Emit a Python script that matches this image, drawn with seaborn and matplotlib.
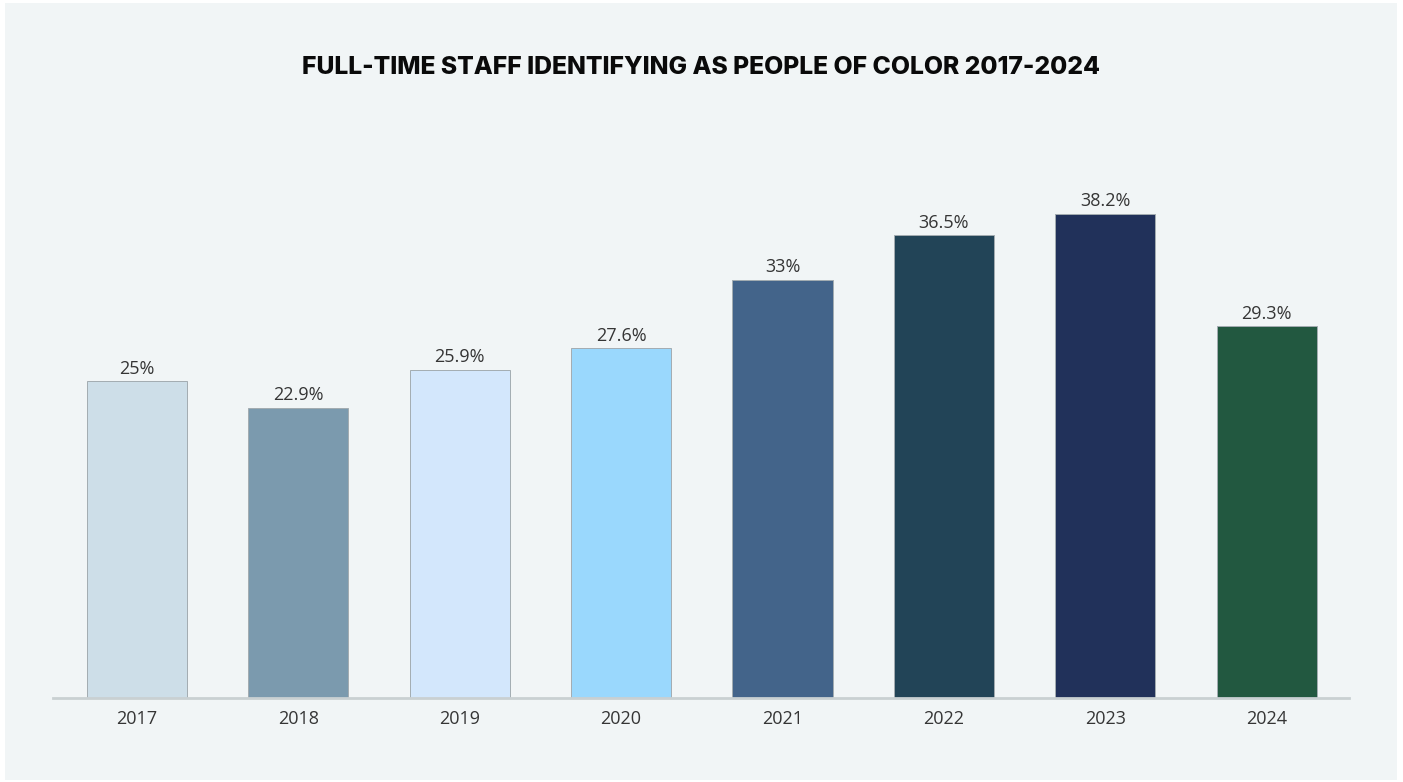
import matplotlib
matplotlib.use("Agg")
import matplotlib.pyplot as plt
from matplotlib.patches import Rectangle
import seaborn as sns
import pandas as pd

years = ["2017", "2018", "2019", "2020", "2021", "2022", "2023", "2024"]
shares = [25.0, 22.9, 25.9, 27.6, 33.0, 36.5, 38.2, 29.3]
labels = ["25%", "22.9%", "25.9%", "27.6%", "33%", "36.5%", "38.2%", "29.3%"]
colors = ["#cddee8", "#7b9aae", "#d3e7fc", "#9ad8fd",
          "#43648a", "#224457", "#21315a", "#225840"]

title = "FULL-TIME STAFF IDENTIFYING AS PEOPLE OF COLOR 2017-2024"

panel_bg = "#f1f5f6"
text_col = "#353535"

sns.set_theme(style="white")
plt.rcParams["font.family"] = ["Open Sans", "DejaVu Sans"]

W, H = 1403, 782
fig = plt.figure(figsize=(W / 100, H / 100), dpi=100, facecolor="white")

# light panel behind the chart with a thin white frame
fig.patches.append(Rectangle((5 / W, 2 / H), (1397 - 5) / W, (780 - 3) / H,
                             transform=fig.transFigure, facecolor=panel_bg,
                             edgecolor="none", zorder=-10))

ax_l, ax_r = 53 / W, 1349 / W
ax_b, ax_t = 1 - 698 / H, 1 - 150 / H
ax = fig.add_axes([ax_l, ax_b, ax_r - ax_l, ax_t - ax_b])
ax.set_facecolor("none")

df = pd.DataFrame({"year": years, "share": shares})
sns.barplot(data=df, x="year", y="share", hue="year", palette=colors,
            legend=False, width=0.62, edgecolor="#a3acb1", linewidth=0.7,
            saturation=1, ax=ax)

for i, (v, lab) in enumerate(zip(shares, labels)):
    ax.annotate(lab, (i, v), xytext=(0, 2.5), textcoords="offset points",
                ha="center", va="bottom", fontsize=13, color=text_col)

ax.set_xlim(-0.52, 7.51)
ax.set_ylim(0, (698 - 150) / ((698 - 381) / 25.0))
ax.set_xlabel("")
ax.set_ylabel("")
ax.set_yticks([])
ax.tick_params(axis="x", length=0, pad=9, labelsize=13, labelcolor=text_col)
for s in ["top", "right", "left"]:
    ax.spines[s].set_visible(False)
ax.spines["bottom"].set_color("#c9d0d2")
ax.spines["bottom"].set_linewidth(2)

fig.text(0.5, 1 - 68 / H, title, ha="center", va="center",
         fontsize=17.8, fontweight="heavy", color="#0a0a0a",
         family=["Inter", "DejaVu Sans"])

fig.savefig("out.png", dpi=100, facecolor="white")
